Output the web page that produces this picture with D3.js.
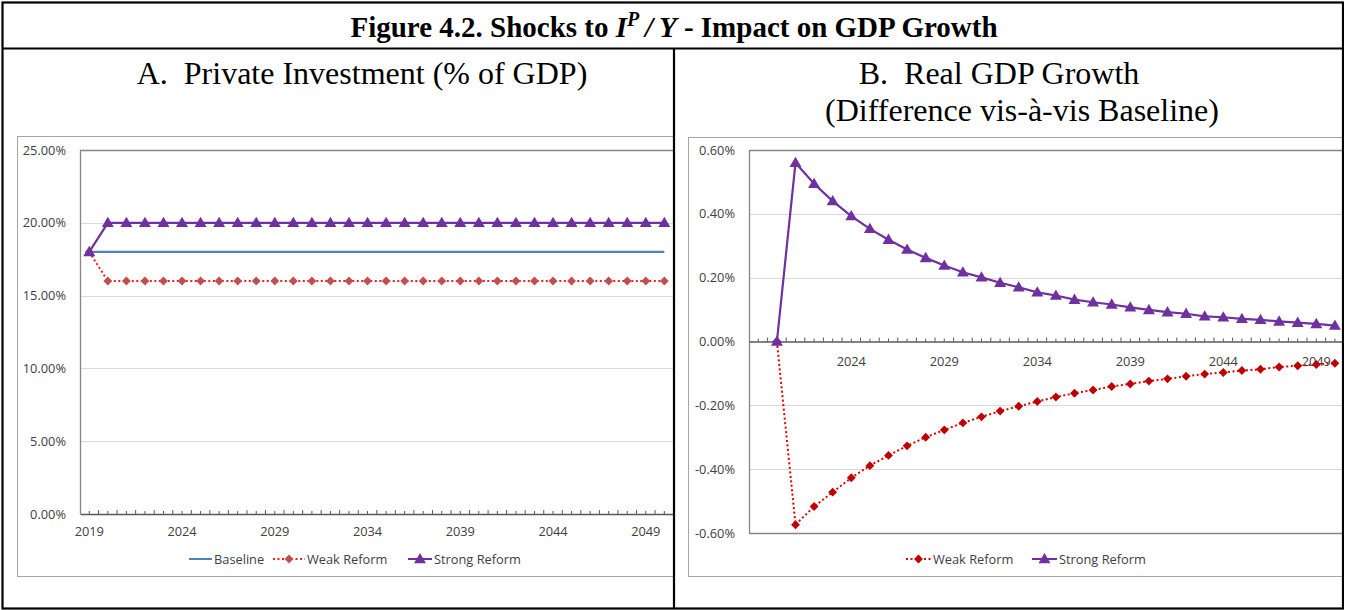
<!DOCTYPE html>
<html>
<head>
<meta charset="utf-8">
<script src="https://cdn.jsdelivr.net/npm/d3@7"></script>
<style>
  body { margin: 0; background: #fff; }
  text { white-space: pre; }
</style>
</head>
<body>
<script>
// categories
var years = d3.range(2019, 2051);
var tickYears = [2019, 2024, 2029, 2034, 2039, 2044, 2049];

// panel A: private investment (% of GDP), 2019..2050
var baseA = years.map(function () { return 0.18; });
var weakA = years.map(function (y) { return y === 2019 ? 0.18 : 0.16; });
var strongA = years.map(function (y) { return y === 2019 ? 0.18 : 0.20; });
var yTicksA = [0, 0.05, 0.10, 0.15, 0.20, 0.25];

// panel B: real GDP growth, difference vs baseline (%), 2020..2050
var yearsB = d3.range(2020, 2051);
var strongB = [0, 0.56, 0.494, 0.44, 0.393, 0.353, 0.319, 0.288, 0.262, 0.238, 0.217,
  0.201, 0.184, 0.170, 0.154, 0.144, 0.131, 0.123, 0.116, 0.107, 0.099,
  0.092, 0.087, 0.079, 0.076, 0.071, 0.068, 0.063, 0.059, 0.055, 0.050];
var weakB = [0, -0.574, -0.517, -0.472, -0.427, -0.389, -0.357, -0.327, -0.300, -0.277, -0.255,
  -0.236, -0.218, -0.203, -0.188, -0.174, -0.162, -0.152, -0.141, -0.133, -0.124,
  -0.117, -0.109, -0.102, -0.097, -0.091, -0.087, -0.080, -0.076, -0.072, -0.068];
var yTicksB = [-0.6, -0.4, -0.2, 0, 0.2, 0.4, 0.6];
var xLabelsB = [2024, 2029, 2034, 2039, 2044, 2049];

var svg = d3.select("body").append("svg")
  .attr("width", 1345)
  .attr("height", 610);

var font = "'Open Sans', 'Noto Sans', sans-serif";
var fs = "12.8px";

//chart area boxes
svg.append("rect").attr("x", 17.5).attr("y", 136.5).attr("width", 656).attr("height", 440)
  .attr("fill", "none").attr("stroke", "#a6a6a6");
svg.append("rect").attr("x", 688.5).attr("y", 137.5).attr("width", 656).attr("height", 439)
  .attr("fill", "none").attr("stroke", "#a6a6a6");

var diamond = d3.symbol().type(d3.symbolDiamond2).size(50);
var triangle = d3.symbol().type(d3.symbolTriangle).size(62);

function drawTicks(g, x, yPos, cats) {
  var bw = x.bandwidth();
  g.selectAll(null).data(cats).enter().append("line")
    .attr("x1", function (d) { return x(d) + bw / 2; })
    .attr("x2", function (d) { return x(d) + bw / 2; })
    .attr("y1", yPos).attr("y2", yPos - 3)
    .attr("stroke", "#595959");
  g.selectAll(null).data(cats).enter().append("line")
    .attr("x1", function (d) { return x(d) + bw; })
    .attr("x2", function (d) { return x(d) + bw; })
    .attr("y1", yPos).attr("y2", yPos - 4)
    .attr("stroke", "#595959");
}

function drawSeries(g, x, y, cats, vals, color, width, dash, markColor, marker) {
  var bw = x.bandwidth();
  var pts = cats.map(function (c, i) { return [x(c) + bw / 2, y(vals[i])]; });
  g.append("path")
    .attr("d", d3.line()(pts))
    .attr("fill", "none")
    .attr("stroke", color)
    .attr("stroke-width", width)
    .attr("stroke-dasharray", dash);
  if (marker) {
    g.selectAll(null).data(pts).enter().append("path")
      .attr("d", marker)
      .attr("transform", function (d) { return "translate(" + d[0] + "," + (d[1] + (marker === triangle ? 0.8 : 0)) + ")"; })
      .attr("fill", markColor);
  }
}

// ---------- Panel A ----------
var xA = d3.scaleBand().domain(years).range([80, 80 + 32 * 18.55]);
var yA = d3.scaleLinear().domain([0, 0.25]).range([514, 150]);
var gA = svg.append("g");

gA.selectAll(null).data(yTicksA.slice(1, -1)).enter().append("line")
  .attr("x1", 80).attr("x2", 673)
  .attr("y1", function (d) { return Math.round(yA(d)) + 0.5; })
  .attr("y2", function (d) { return Math.round(yA(d)) + 0.5; })
  .attr("stroke", "#d9d9d9");

gA.append("path").attr("d", "M673,150.5H80.5V514")
  .attr("fill", "none").attr("stroke", "#868686").attr("stroke-width", 1.3);

var axA = d3.axisLeft(yA).tickValues(yTicksA).tickSize(0).tickPadding(14)
  .tickFormat(function (d) { return (d * 100).toFixed(2) + "%"; });
gA.append("g").attr("transform", "translate(80,0)").call(axA)
  .call(function (g) { g.select(".domain").remove(); })
  .selectAll("text").attr("font-family", font).attr("font-size", fs).attr("fill", "#404040");

var axAx = d3.axisBottom(xA).tickValues(tickYears).tickSize(0).tickPadding(13);
gA.append("g").attr("transform", "translate(0,514)").call(axAx)
  .call(function (g) { g.select(".domain").attr("stroke", "#595959").attr("stroke-width", 1.3); })
  .selectAll("text").attr("font-family", font).attr("font-size", fs).attr("fill", "#404040");
drawTicks(gA, xA, 514, years);

drawSeries(gA, xA, yA, years, baseA, "#4f81bd", 2.2, null, null, null);
drawSeries(gA, xA, yA, years, weakA, "#ff1a1a", 2, "2,2.5", "#c0504d", diamond);
drawSeries(gA, xA, yA, years, strongA, "#7030a0", 2.2, null, "#7030a0", triangle);

// ---------- Panel B ----------
var xB = d3.scaleBand().domain(years).range([749, 749 + 32 * 18.6]);
var yB = d3.scaleLinear().domain([-0.6, 0.6]).range([533, 150]);
var gB = svg.append("g");

gB.selectAll(null).data(yTicksB.filter(function (d) { return d !== 0 && Math.abs(d) < 0.6; })).enter().append("line")
  .attr("x1", 749).attr("x2", 1344)
  .attr("y1", function (d) { return Math.round(yB(d)) + 0.5; })
  .attr("y2", function (d) { return Math.round(yB(d)) + 0.5; })
  .attr("stroke", "#d9d9d9");

gB.append("path").attr("d", "M1344,150.5H749.5V533.5H1344")
  .attr("fill", "none").attr("stroke", "#868686").attr("stroke-width", 1.3);

var axB = d3.axisLeft(yB).tickValues(yTicksB).tickSize(0).tickPadding(14)
  .tickFormat(function (d) { return (d).toFixed(2) + "%"; });
gB.append("g").attr("transform", "translate(749,0)").call(axB)
  .call(function (g) { g.select(".domain").remove(); })
  .selectAll("text").attr("font-family", font).attr("font-size", fs).attr("fill", "#404040");

var axBx = d3.axisBottom(xB).tickValues(xLabelsB).tickSize(0).tickPadding(15);
gB.append("g").attr("transform", "translate(0," + yB(0) + ")").call(axBx)
  .call(function (g) { g.select(".domain").attr("stroke", "#595959").attr("stroke-width", 1.3); })
  .selectAll("text").attr("font-family", font).attr("font-size", fs).attr("fill", "#404040");
drawTicks(gB, xB, yB(0), years);

drawSeries(gB, xB, yB, yearsB, weakB, "#e00000", 2, "2,2.5", "#c00000", diamond);
drawSeries(gB, xB, yB, yearsB, strongB, "#7030a0", 2.2, null, "#7030a0", triangle);

// ---------- Legends ----------
function legendItem(x0, x1, y, label, color, dash, markColor, marker) {
  svg.append("line").attr("x1", x0).attr("x2", x1).attr("y1", y).attr("y2", y)
    .attr("stroke", color).attr("stroke-width", 2).attr("stroke-dasharray", dash);
  if (marker) {
    svg.append("path").attr("d", marker)
      .attr("transform", "translate(" + ((x0 + x1) / 2) + "," + (y + (marker === triangle ? 0.8 : 0)) + ")")
      .attr("fill", markColor);
  }
  svg.append("text").attr("x", x1 + 2).attr("y", y + 4.5)
    .attr("font-family", font).attr("font-size", fs).attr("fill", "#404040")
    .text(label);
}
legendItem(189, 212, 559, "Baseline", "#4f81bd", null, null, null);
legendItem(273, 305, 559, "Weak Reform", "#ff1a1a", "2,2.5", "#c0504d", diamond);
legendItem(408, 432, 559, "Strong Reform", "#7030a0", null, "#7030a0", triangle);
legendItem(906, 931, 559, "Weak Reform", "#e00000", "2,2.5", "#c00000", diamond);
legendItem(1032, 1057, 559, "Strong Reform", "#7030a0", null, "#7030a0", triangle);

// ---------- Table frame and titles ----------
var frame = svg.append("g").attr("stroke", "#000").attr("stroke-width", 2.2).attr("fill", "none");
frame.append("rect").attr("x", 2.5).attr("y", 2.5).attr("width", 1340.5).attr("height", 606);
frame.append("line").attr("x1", 2).attr("x2", 1344).attr("y1", 48.5).attr("y2", 48.5);
frame.append("line").attr("x1", 674).attr("x2", 674).attr("y1", 48).attr("y2", 609);
svg.append("rect").attr("x", 1344).attr("y", 0).attr("width", 1).attr("height", 610).attr("fill", "#fff");

var title = svg.append("text")
  .attr("x", 674).attr("y", 37)
  .attr("text-anchor", "middle")
  .attr("font-family", "'Liberation Serif', 'Times New Roman', serif")
  .attr("font-size", "29px").attr("font-weight", "bold");
title.append("tspan").text("Figure 4.2. Shocks to ");
title.append("tspan").attr("font-style", "italic").text("I");
title.append("tspan").attr("font-style", "italic").attr("font-size", "20px").attr("dy", -11).text("P");
title.append("tspan").attr("font-style", "italic").attr("dy", 11).text("\u2009/\u2009Y");
title.append("tspan").text(" - Impact on GDP Growth");

var sub = svg.append("g")
  .attr("font-family", "'Liberation Serif', 'Times New Roman', serif")
  .attr("font-size", "32px").attr("text-anchor", "middle");
sub.append("text").attr("x", 362).attr("y", 84).text("A.  Private Investment (% of GDP)");
sub.append("text").attr("x", 999).attr("y", 84).text("B.  Real GDP Growth");
sub.append("text").attr("x", 1022).attr("y", 121).text("(Difference vis-à-vis Baseline)");
</script>
</body>
</html>
